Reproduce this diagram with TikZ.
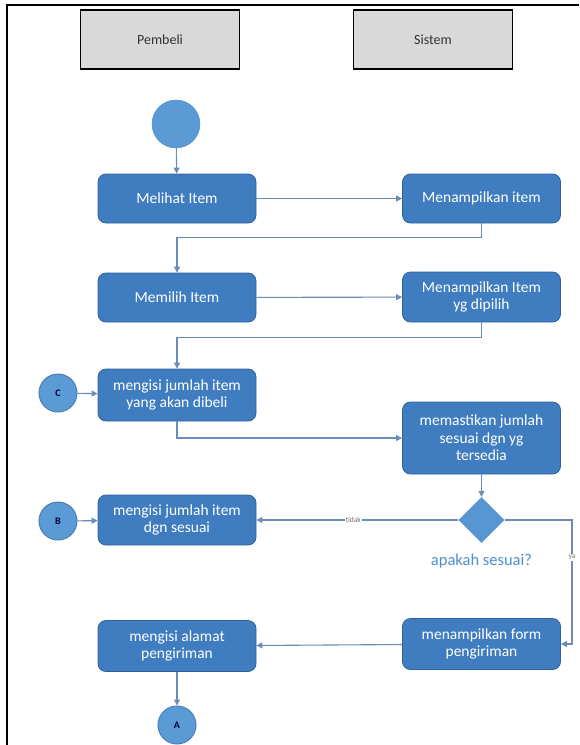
\documentclass[tikz,border=0pt]{standalone}
\usepackage{fontspec}
\setmainfont{Carlito}
\usetikzlibrary{arrows.meta,shapes.geometric}

\definecolor{boxfill}{HTML}{3F7DC0}
\definecolor{boxedge}{HTML}{2F6299}
\definecolor{dotfill}{HTML}{5B9BD5}
\definecolor{dotedge}{HTML}{4A7FB5}
\definecolor{flow}{HTML}{6A8DB8}
\definecolor{headfill}{HTML}{D9D9D9}
\definecolor{labelblue}{HTML}{4F8FCF}

\tikzset{
  lane/.style={draw=black, line width=1.2pt, fill=headfill, minimum width=159pt,
    minimum height=59pt, font=\fontsize{14}{16}\selectfont, text=black!80},
  act/.style={draw=boxedge, line width=0.8pt, fill=boxfill, rounded corners=8pt,
    text=white, align=center, font=\fontsize{15.5}{17.5}\selectfont,
    minimum width=158pt, inner sep=0pt},
  startdot/.style={circle, fill=dotfill, draw=dotfill!90!black, minimum size=48pt, inner sep=0pt},
  linkdot/.style={circle, fill=dotfill, draw=dotedge, line width=1pt, minimum size=38pt,
    inner sep=0pt, font=\fontsize{10}{12}\selectfont\bfseries, text=black!80!blue},
  choice/.style={diamond, fill=dotfill!85!boxfill, minimum width=46pt, minimum height=46pt, inner sep=0pt},
  flowline/.style={draw=flow, line width=1.1pt, -{Triangle[length=6pt,width=6pt]}},
  guard/.style={fill=white, inner sep=1pt, font=\fontsize{7.5}{9}\selectfont, text=black!55},
}

\begin{document}
\begin{tikzpicture}[x=1pt, y=-1pt]
  \useasboundingbox (0,0) rectangle (579,745);
  \fill[white] (0,0) rectangle (579,745);
  % outer frame
  \draw[line width=1.6pt] (7,745) -- (7,5) -- (579,5);

  % swimlane headers
  \node[lane] (pembeli) at (160,39.5) {Pembeli};
  \node[lane] (sistem) at (433,39.5) {Sistem};

  % activities
  \node[startdot] (start) at (176,124) {};
  \node[act, minimum height=49pt] (melihat) at (177,198.5) {Melihat Item};
  \node[act, minimum height=49pt] (tampil1) at (481.5,198.5) {Menampilkan item};
  \node[act, minimum height=49pt] (memilih) at (177,297.5) {Memilih Item};
  \node[act, minimum height=50pt] (tampil2) at (481.5,297) {Menampilkan Item\\yg dipilih};
  \node[act, minimum height=52pt] (isi1) at (177,395) {mengisi jumlah item\\yang akan dibeli};
  \node[linkdot] (C) at (58,393) {C};
  \node[act, minimum height=72pt] (pastikan) at (481.5,438) {memastikan jumlah\\sesuai dgn yg\\tersedia};
  \node[choice] (cek) at (481.5,520) {};
  \node[text=labelblue, font=\fontsize{16.5}{18}\selectfont] (tanya) at (481.5,561) {apakah sesuai?};
  \node[act, minimum height=50pt] (isi2) at (177,520) {mengisi jumlah item\\dgn sesuai};
  \node[linkdot] (B) at (58,521) {B};
  \node[act, minimum height=51pt] (form) at (481.5,644) {menampilkan form\\pengiriman};
  \node[act, minimum height=51pt] (alamat) at (177,646) {mengisi alamat\\pengiriman};
  \node[linkdot] (A) at (177,725) {A};

  % connectors
  \draw[flowline] (start) -- (melihat);
  \draw[flowline] (melihat) -- (tampil1);
  \draw[flowline] (tampil1.south) -- ++(0,14) -| (memilih.north);
  \draw[flowline] (memilih) -- (tampil2);
  \draw[flowline] (tampil2.south) -- ++(0,15) -| (isi1.north);
  \draw[flowline] (C) -- (isi1);
  \draw[flowline] (isi1.south) |- (pastikan.west);
  \draw[flowline] (pastikan) -- (cek);
  \draw[flowline] (cek.west) -- node[guard, pos=0.52] {tidak} (isi2.east);
  \draw[flowline] (B) -- (isi2);
  \coordinate (turn) at (572,520);
  \draw[flowline] (cek.east) -- (turn) |- node[guard, pos=0.15] {ya} (form.east);
  \draw[flowline] (form) -- (alamat);
  \draw[flowline] (alamat) -- (A);
\end{tikzpicture}
\end{document}
